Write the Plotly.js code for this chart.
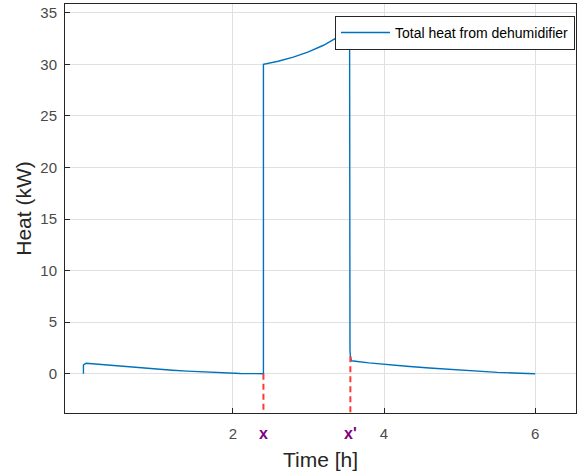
<!DOCTYPE html>
<html>
<head>
<meta charset="utf-8">
<script src="https://cdn.plot.ly/plotly-3.0.1.min.js"></script>
<style>
  html, body { margin: 0; padding: 0; background: #ffffff; }
  #chart { width: 577px; height: 475px; }
</style>
</head>
<body>
<div id="chart"></div>
<script>
// Total heat delivered by the dehumidifier over the run (kW vs hours)
const timeH = [
  0.024, 0.024, 0.06, 0.2, 0.4, 0.6, 0.8, 1.0, 1.2, 1.4, 1.6, 1.8, 1.95, 2.1, 2.3, 2.405,
  2.405, 2.6, 2.8, 3.0, 3.2, 3.35, 3.45, 3.545,
  3.545, 3.55, 3.555, 3.57, 3.8, 4.0, 4.3, 4.6, 4.9, 5.2, 5.5, 5.8, 6.0
];
const heatKW = [
  0, 0.85, 1.02, 0.93, 0.8, 0.67, 0.55, 0.44, 0.34, 0.25, 0.17, 0.1, 0.04, 0.02, 0.01, 0,
  30.0, 30.3, 30.7, 31.2, 31.85, 32.45, 32.9, 33.4,
  3.0, 2.3, 1.7, 1.25, 1.05, 0.9, 0.72, 0.56, 0.4, 0.25, 0.13, 0.04, 0
];

// Switching instants of the dehumidifier and where their guide lines start
const switchTimes = [2.405, 3.555];
const switchNames = ['x', "x'"];
const switchHeat = [0, 1.7];

const xTicks = [2, 4, 6];
const yTicks = [0, 5, 10, 15, 20, 25, 30, 35];
const xRange = [-0.22, 6.54];
const yRange = [-3.81, 35.85];

const axisColor = '#262626';
const gridColor = '#e0e0e0';

const traces = [{
  x: timeH,
  y: heatKW,
  type: 'scatter',
  mode: 'lines',
  name: 'Total heat from dehumidifier',
  line: { color: '#0072BD', width: 1.4 }
}];

switchTimes.forEach((t, i) => {
  traces.push({
    x: [t, t],
    y: [switchHeat[i], yRange[0]],
    type: 'scatter',
    mode: 'lines',
    showlegend: false,
    hoverinfo: 'skip',
    line: { color: '#ff3838', width: 2, dash: '6px,4px' }
  });
});

const annotations = switchTimes.map((t, i) => ({
  x: t,
  xref: 'x',
  y: -0.049,
  yref: 'paper',
  text: '<b>' + switchNames[i] + '</b>',
  showarrow: false,
  xanchor: 'center',
  yanchor: 'middle',
  font: { family: 'Liberation Sans, Arial, sans-serif', size: 16, color: '#800080' }
}));

const layout = {
  width: 577,
  height: 475,
  margin: { l: 65, r: 1, t: 4, b: 62 },
  paper_bgcolor: '#ffffff',
  plot_bgcolor: '#ffffff',
  font: { family: 'Liberation Sans, Arial, sans-serif', color: axisColor },
  showlegend: true,
  legend: {
    x: 0.998, xanchor: 'right',
    y: 0.971, yanchor: 'top',
    bgcolor: '#ffffff',
    bordercolor: axisColor,
    borderwidth: 1,
    itemwidth: 49,
    font: { size: 14, color: '#000000' },
    tracegroupgap: 0
  },
  xaxis: {
    range: xRange,
    tickvals: xTicks,
    ticktext: xTicks.map(String),
    ticks: 'inside',
    ticklen: 5,
    tickcolor: axisColor,
    ticklabelstandoff: 7,
    showline: true,
    linecolor: axisColor,
    linewidth: 1,
    mirror: true,
    showgrid: true,
    gridcolor: gridColor,
    zeroline: false,
    tickfont: { size: 15, color: '#4a4a4a' },
    title: { text: 'Time [h]', font: { size: 21, color: axisColor }, standoff: 11 }
  },
  yaxis: {
    range: yRange,
    tickvals: yTicks,
    ticks: 'inside',
    ticklen: 5,
    tickcolor: axisColor,
    ticklabelstandoff: 4,
    showline: true,
    linecolor: axisColor,
    linewidth: 1,
    mirror: true,
    showgrid: true,
    gridcolor: gridColor,
    zeroline: false,
    tickfont: { size: 15, color: '#4a4a4a' },
    title: { text: 'Heat (kW)', font: { size: 21, color: axisColor }, standoff: 2 }
  },
  annotations: annotations
};

Plotly.newPlot('chart', traces, layout, { displayModeBar: false, staticPlot: true });
</script>
</body>
</html>
